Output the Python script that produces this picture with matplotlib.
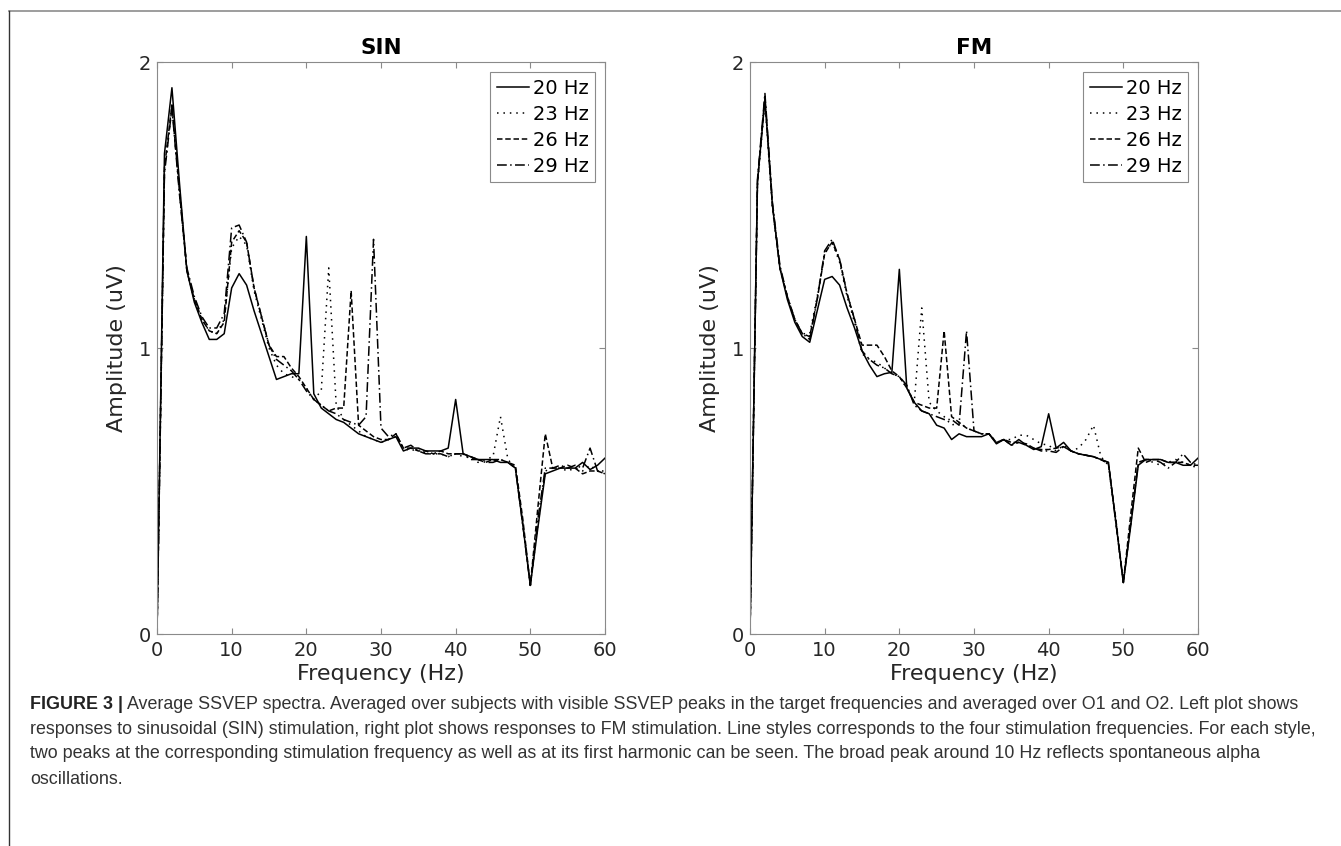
import numpy as np
import matplotlib
matplotlib.use("Agg")
import matplotlib.pyplot as plt
from matplotlib.lines import Line2D

# frequency axis (Hz), 1 Hz bins
freq = list(range(0, 61))

# SIN stimulation, amplitude (uV)
sin_20 = [0, 1.68, 1.91, 1.58, 1.27, 1.16, 1.09, 1.03, 1.03, 1.05,
          1.21, 1.26, 1.22, 1.13, 1.05, 0.97, 0.89, 0.90, 0.91, 0.91,
          1.39, 0.84, 0.79, 0.77, 0.75, 0.74, 0.72, 0.70, 0.69, 0.68,
          0.67, 0.68, 0.69, 0.64, 0.65, 0.65, 0.64, 0.64, 0.64, 0.65,
          0.82, 0.63, 0.62, 0.61, 0.61, 0.61, 0.60, 0.60, 0.58, 0.38,
          0.17, 0.37, 0.56, 0.57, 0.58, 0.58, 0.58, 0.60, 0.575, 0.59,
          0.615]
sin_23 = [0, 1.62, 1.84, 1.56, 1.27, 1.17, 1.10, 1.06, 1.05, 1.10,
          1.35, 1.39, 1.36, 1.20, 1.10, 1.00, 0.94, 0.91, 0.90, 0.89,
          0.86, 0.82, 0.85, 1.28, 0.80, 0.75, 0.73, 0.71, 0.69, 0.68,
          0.67, 0.68, 0.69, 0.65, 0.64, 0.65, 0.63, 0.63, 0.63, 0.62,
          0.63, 0.62, 0.62, 0.60, 0.61, 0.62, 0.76, 0.61, 0.58, 0.38,
          0.17, 0.38, 0.57, 0.58, 0.58, 0.57, 0.58, 0.57, 0.59, 0.57,
          0.56]
sin_26 = [0, 1.63, 1.85, 1.55, 1.27, 1.17, 1.10, 1.06, 1.05, 1.09,
          1.37, 1.41, 1.37, 1.21, 1.11, 1.01, 0.97, 0.97, 0.93, 0.90,
          0.86, 0.82, 0.80, 0.78, 0.79, 0.79, 1.20, 0.73, 0.71, 0.69,
          0.68, 0.68, 0.70, 0.65, 0.65, 0.64, 0.64, 0.63, 0.64, 0.63,
          0.63, 0.63, 0.62, 0.61, 0.60, 0.61, 0.61, 0.60, 0.59, 0.40,
          0.17, 0.44, 0.70, 0.58, 0.58, 0.59, 0.58, 0.56, 0.57, 0.57,
          0.56]
sin_29 = [0, 1.61, 1.84, 1.54, 1.28, 1.18, 1.11, 1.07, 1.07, 1.12,
          1.42, 1.43, 1.37, 1.21, 1.11, 1.01, 0.96, 0.94, 0.92, 0.89,
          0.85, 0.82, 0.80, 0.78, 0.77, 0.75, 0.74, 0.73, 0.76, 1.38,
          0.72, 0.69, 0.70, 0.65, 0.66, 0.64, 0.63, 0.63, 0.63, 0.62,
          0.63, 0.63, 0.61, 0.61, 0.60, 0.60, 0.61, 0.60, 0.58, 0.38,
          0.17, 0.40, 0.58, 0.58, 0.59, 0.58, 0.59, 0.58, 0.65, 0.57,
          0.57]

# FM stimulation, amplitude (uV)
fm_20 = [0, 1.58, 1.87, 1.50, 1.28, 1.17, 1.09, 1.04, 1.02, 1.13,
         1.24, 1.25, 1.22, 1.14, 1.07, 0.99, 0.94, 0.90, 0.91, 0.915,
         1.275, 0.86, 0.81, 0.78, 0.77, 0.73, 0.72, 0.68, 0.70, 0.69,
         0.69, 0.69, 0.70, 0.665, 0.68, 0.66, 0.68, 0.66, 0.645, 0.655,
         0.77, 0.65, 0.67, 0.64, 0.63, 0.625, 0.62, 0.61, 0.60, 0.39,
         0.18, 0.38, 0.59, 0.61, 0.61, 0.61, 0.60, 0.60, 0.59, 0.59,
         0.615]
fm_23 = [0, 1.57, 1.86, 1.49, 1.28, 1.18, 1.10, 1.05, 1.05, 1.18,
         1.33, 1.37, 1.30, 1.18, 1.09, 0.98, 0.96, 0.95, 0.93, 0.91,
         0.90, 0.86, 0.81, 1.14, 0.81, 0.78, 0.76, 0.73, 0.74, 0.72,
         0.71, 0.70, 0.70, 0.67, 0.68, 0.68, 0.695, 0.695, 0.68, 0.665,
         0.66, 0.64, 0.66, 0.64, 0.65, 0.68, 0.73, 0.62, 0.59, 0.39,
         0.18, 0.39, 0.60, 0.61, 0.60, 0.59, 0.60, 0.61, 0.60, 0.59,
         0.58]
fm_26 = [0, 1.58, 1.88, 1.50, 1.28, 1.18, 1.10, 1.05, 1.04, 1.17,
         1.33, 1.37, 1.31, 1.19, 1.10, 1.01, 1.01, 1.01, 0.97, 0.92,
         0.90, 0.86, 0.81, 0.80, 0.79, 0.79, 1.06, 0.76, 0.74, 0.72,
         0.71, 0.70, 0.70, 0.67, 0.68, 0.67, 0.67, 0.665, 0.65, 0.645,
         0.645, 0.65, 0.655, 0.64, 0.63, 0.625, 0.62, 0.61, 0.595, 0.40,
         0.18, 0.42, 0.65, 0.60, 0.61, 0.61, 0.60, 0.60, 0.60, 0.59,
         0.59]
fm_29 = [0, 1.59, 1.89, 1.51, 1.29, 1.18, 1.10, 1.05, 1.03, 1.17,
         1.34, 1.38, 1.31, 1.19, 1.10, 0.99, 0.96, 0.94, 0.93, 0.91,
         0.90, 0.87, 0.80, 0.78, 0.77, 0.76, 0.75, 0.75, 0.73, 1.06,
         0.71, 0.70, 0.70, 0.67, 0.68, 0.66, 0.67, 0.66, 0.65, 0.64,
         0.64, 0.635, 0.655, 0.64, 0.63, 0.625, 0.62, 0.61, 0.60, 0.39,
         0.18, 0.39, 0.60, 0.61, 0.61, 0.60, 0.58, 0.60, 0.63, 0.60,
         0.59]

labels = ['20 Hz', '23 Hz', '26 Hz', '29 Hz']
styles = ['-', (0, (1, 3.2)), (0, (3.6, 1.8)), (0, (6.4, 2.2, 1, 2.2))]
panels = [('SIN', [sin_20, sin_23, sin_26, sin_29]),
          ('FM', [fm_20, fm_23, fm_26, fm_29])]

caption_bold = "FIGURE 3 |"
caption_lines = [
    "Average SSVEP spectra. Averaged over subjects with visible SSVEP peaks in the target frequencies and averaged over O1 and O2. Left plot shows",
    "responses to sinusoidal (SIN) stimulation, right plot shows responses to FM stimulation. Line styles corresponds to the four stimulation frequencies. For each style,",
    "two peaks at the corresponding stimulation frequency as well as at its first harmonic can be seen. The broad peak around 10 Hz reflects spontaneous alpha",
    "oscillations.",
]

W, H = 1341, 846
fig = plt.figure(figsize=(W / 100, H / 100), dpi=100)
plt.rcParams['font.family'] = ['DejaVu Sans']

ax_left = [157, 750]
for (title, series), x0 in zip(panels, ax_left):
    ax = fig.add_axes([x0 / W, (H - 634) / H, 448 / W, 572 / H])
    for y, lab, ls in zip(series, labels, styles):
        ax.plot(freq, y, color='black', linestyle=ls, linewidth=1.1, label=lab)
    ax.set_xlim(0, 60)
    ax.set_ylim(0, 2)
    ax.set_xticks(range(0, 61, 10))
    ax.set_yticks([0, 1, 2])
    ax.tick_params(direction='in', top=True, right=True, length=4.5,
                   width=0.8, color='#8a8a8a', labelsize=14, labelcolor='#262626')
    ax.tick_params(axis='x', pad=5)
    ax.tick_params(axis='y', pad=4)
    for sp in ax.spines.values():
        sp.set_color('#8a8a8a')
        sp.set_linewidth(0.8)
    ax.set_xlabel('Frequency (Hz)', fontsize=16, color='#262626', labelpad=3)
    ax.set_ylabel('Amplitude (uV)', fontsize=16, color='#262626', labelpad=9)
    ax.set_title(title, fontsize=15.5, fontweight='bold', pad=6)
    leg = ax.legend(loc='upper right', fontsize=14, frameon=True, fancybox=False,
                    framealpha=1, edgecolor='#8a8a8a', handlelength=1.65,
                    handletextpad=0.2, labelspacing=0.36, borderpad=0.35,
                    borderaxespad=0.5)
    leg.get_frame().set_linewidth(0.8)

# outer frame lines
fig.add_artist(Line2D([9 / W, 1.0], [1 - 11 / H, 1 - 11 / H], transform=fig.transFigure,
                      color='#8c8c8c', linewidth=1.2))
fig.add_artist(Line2D([9 / W, 9 / W], [0, 1 - 11 / H], transform=fig.transFigure,
                      color='#333333', linewidth=1.0))

# caption
cap_font = 'Liberation Sans'
cap_color = '#333333'
fs = 12.5
x_start = 30
line_y = [704, 729, 754, 779]

tb = fig.text(x_start / W, 1 - line_y[0] / H, caption_bold, fontsize=fs, fontweight='bold',
              family=cap_font, color='#222222', va='center', ha='left')
t_rest = [fig.text(x_start / W, 1 - yy / H, s, fontsize=fs, family=cap_font,
                   color=cap_color, va='center', ha='left')
          for s, yy in zip(caption_lines, line_y)]

fig.canvas.draw()
renderer = fig.canvas.get_renderer()
# scale caption so the second (longest) line spans its width in the reference
w2 = t_rest[1].get_window_extent(renderer).width
scale = 1288 / w2
tb.set_fontsize(fs * scale)
for t in t_rest:
    t.set_fontsize(fs * scale)
fig.canvas.draw()
bw = tb.get_window_extent(renderer).width
t_rest[0].set_x((x_start + bw + 4) / W)

fig.savefig('out.png', dpi=100)
